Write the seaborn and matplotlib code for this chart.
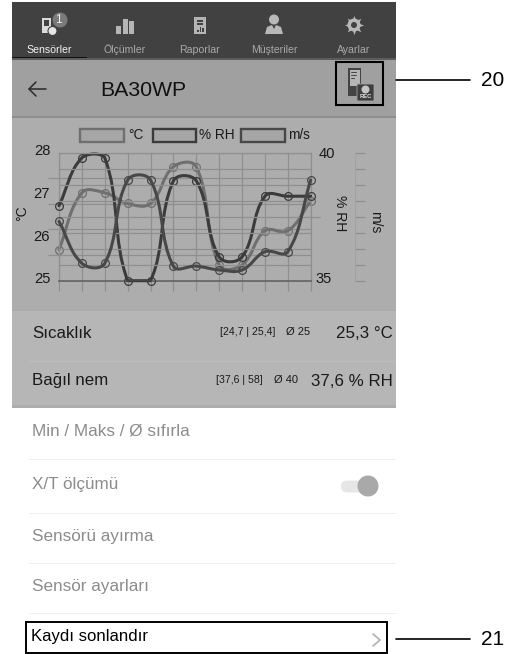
"""Sensor detail screen with the three-axis BA30WP trend chart."""

import matplotlib

matplotlib.use("Agg")
import matplotlib.pyplot as plt
import numpy as np
import seaborn as sns
from matplotlib.patches import Circle, FancyBboxPatch, PathPatch, Polygon, Rectangle
from matplotlib.path import Path
from matplotlib.transforms import ScaledTranslation

# chart values
SAMPLES = list(range(12))
TEMP_C = [25.73, 27.06, 27.06, 26.81, 26.81, 27.67, 27.67, 25.37, 25.37, 26.17, 26.17, 26.87]
HUMIDITY = [37.93, 39.80, 39.80, 35.00, 35.00, 38.90, 38.90, 35.93, 35.93, 38.30, 38.30, 38.30]
SPEED = [3.71, 1.09, 1.09, 6.29, 6.29, 0.91, 0.91, 0.67, 0.67, 1.81, 1.81, 6.29]

TEMP_TICKS = [25, 26, 27, 28]
TEMP_GRID = [25.6, 26.2, 26.8, 27.4]
RH_TICKS = [35, 40]
SPEED_TICKS = list(range(9))

# screen text
TABS = ["Sensörler", "Ölçümler", "Raporlar", "Müşteriler", "Ayarlar"]
TAB_X = [49, 125, 200, 274, 354]
MENU = ["Min / Maks / Ø sıfırla", "X/T ölçümü", "Sensörü ayırma", "Sensör ayarları"]
MENU_Y = [431, 484, 536, 586]
SEPARATORS = [459, 513, 563, 613]

W, H = 518, 654
PLOT = (59, 152.7, 310.7, 280.7)  # left, top, right, bottom in pixels
COL_TEMP, COL_RH, COL_SPEED = "#6f6f6f", "#3b3b3b", "#484848"
GRID = "#8f8f8f"

sns.set_theme(style="white")
plt.rcParams["font.family"] = ["Liberation Sans", "DejaVu Sans"]


def smooth_path(ax, xs, ys, tension=0.4):
    """Bezier path through the points, same control rule as a chart.js line."""
    x0, x1 = ax.get_xlim()
    y0, y1 = ax.get_ylim()
    sx = (PLOT[2] - PLOT[0]) / (x1 - x0)
    sy = (PLOT[3] - PLOT[1]) / (y1 - y0)
    xs, ys = np.asarray(xs, float), np.asarray(ys, float)
    after, before = [], []
    for i in range(len(xs)):
        a, c = max(i - 1, 0), min(i + 1, len(xs) - 1)
        d01 = np.hypot((xs[i] - xs[a]) * sx, (ys[i] - ys[a]) * sy)
        d12 = np.hypot((xs[c] - xs[i]) * sx, (ys[c] - ys[i]) * sy)
        total = max(d01 + d12, 1e-6)
        fa, fb = tension * d01 / total, tension * d12 / total
        dx, dy = xs[c] - xs[a], ys[c] - ys[a]
        # control points stay inside the plot area
        before.append((xs[i] - fa * dx, np.clip(ys[i] - fa * dy, y0, y1)))
        after.append((xs[i] + fb * dx, np.clip(ys[i] + fb * dy, y0, y1)))
    verts, codes = [(xs[0], ys[0])], [Path.MOVETO]
    for i in range(len(xs) - 1):
        verts += [after[i], before[i + 1], (xs[i + 1], ys[i + 1])]
        codes += [Path.CURVE4] * 3
    return Path(verts, codes)


def draw_series(ax, values, color):
    ax.add_patch(PathPatch(smooth_path(ax, SAMPLES, values), fill=False, ec=color, lw=2.2,
                           clip_on=False, capstyle="round"))
    sns.lineplot(x=SAMPLES, y=values, ax=ax, marker="o", linestyle="", markersize=5.6,
                 markerfacecolor="none", markeredgecolor=color, markeredgewidth=0.9,
                 legend=False, clip_on=False)


def nudge(tick, dx_px, dy_px):
    tick.set_transform(tick.get_transform() + ScaledTranslation(dx_px / 100, dy_px / 100, fig.dpi_scale_trans))


fig = plt.figure(figsize=(W / 100, H / 100), dpi=100, facecolor="white")

# ---- screen background, in pixel coordinates
ui = fig.add_axes([0, 0, 1, 1], zorder=0)
ui.set_xlim(0, W)
ui.set_ylim(H, 0)
ui.axis("off")


def rect(x0, y0, x1, y1, **kw):
    kw.setdefault("lw", 0)
    ui.add_patch(Rectangle((x0, y0), x1 - x0, y1 - y0, **kw))


def label(x, y, s, size=11, color="#1a1a1a", ha="left", **kw):
    ui.text(x, y, s, fontsize=size, color=color, ha=ha, va="center", **kw)


rect(12, 2, 396, 59, fc="#414141")
rect(12, 59, 396, 117, fc="#a0a0a0")
rect(12, 117, 396, 310, fc="#adadad")
rect(12, 310, 396, 408, fc="#b6b6b6")
rect(12, 58, 396, 60, fc="#5c5c5c")
rect(12, 116, 396, 118, fc="#8e8e8e")
rect(12, 310, 396, 311, fc="#a9a9a9")
rect(29, 361, 396, 362, fc="#bdbdbd")
rect(12, 405, 396, 408, fc="#adadad")

# tab bar
for i, (name, x) in enumerate(zip(TABS, TAB_X)):
    label(x, 50, name, size=7.6, color="#f2f2f2" if i == 0 else "#a9a9a9", ha="center")
rect(12, 56.5, 87, 58, fc="#111111")

rect(42, 18, 51, 33, fc="#d9d9d9")
rect(44, 20, 49, 26, fc="#414141")
ui.add_patch(Circle((60, 20), 7.5, fc="#7a7a7a", lw=0))
label(58, 20, "1", size=8.5, color="#eeeeee", ha="center")
ui.add_patch(Circle((52.5, 31), 4.5, fc="#e6e6e6", ec="#414141", lw=0.8))

for x0, top in zip((116, 122.5, 129), (26, 19, 21)):
    rect(x0, top, x0 + 5, 34, fc="#b5b5b5")

rect(194, 17, 206, 34, fc="#b5b5b5")
rect(197, 20, 203, 21.5, fc="#414141")
rect(197, 23, 203, 24.5, fc="#414141")
for x0, top in zip((197, 199.5, 202), (30, 27, 28)):
    rect(x0, top, x0 + 1.6, 32, fc="#414141")

ui.add_patch(Circle((274, 19.5), 5, fc="#b8b8b8", lw=0))
ui.add_patch(Polygon([(265, 34), (267, 27), (272, 25), (274, 29), (276, 25), (281, 27), (283, 34)],
                     fc="#b8b8b8", lw=0))

ui.scatter([354], [25], s=190, marker=(8, 1, 0), c="#b8b8b8", linewidths=0)
ui.add_patch(Circle((354, 25), 6.5, fc="#b8b8b8", lw=0))
ui.add_patch(Circle((354, 25), 3, fc="#414141", lw=0))

# header
ui.plot([29, 46], [89, 89], color="#2a2a2a", lw=1.1)
ui.plot([36, 29, 36], [82, 89, 96], color="#2a2a2a", lw=1.1)
label(100, 90, "BA30WP", size=15.3, color="#111111")

rect(335.5, 62, 383, 105, fc="none", ec="black", lw=1.5)
rect(348, 68, 361, 96, fc="#444444")
rect(349.5, 69.5, 359.5, 86, fc="#b5b5b5")
ui.plot([351, 356], [72, 72], color="#444444", lw=0.7)
ui.plot([351, 356], [75, 75], color="#444444", lw=0.7)
ui.plot([351, 354], [78, 78], color="#444444", lw=0.7)
ui.add_patch(FancyBboxPatch((358, 85), 15, 15, boxstyle="round,pad=1", fc="#3e3e3e", ec="#a0a0a0", lw=0.6))
ui.add_patch(Circle((365.5, 89.5), 4, fc="#c4c4c4", lw=0))
label(365.5, 97, "REC", size=4.2, color="#dddddd", ha="center", fontweight="bold")

# legend row
for x0, x1, col, name, tx in [(80, 124, COL_TEMP, "°C", 128), (153, 196, COL_RH, "% RH", 199),
                              (241, 285, COL_SPEED, "m/s", 288)]:
    rect(x0, 129, x1, 142, fc="#a6a6a6", ec=col, lw=1.7)
    label(tx, 135, name, size=9.8)

# reading rows
label(32, 334, "Sıcaklık", size=12.2)
label(220, 332, "[24,7 | 25,4]", size=7.6)
label(286, 332, "Ø 25", size=8)
label(393, 334, "25,3 °C", size=12.2, ha="right")
label(32, 381, "Bağıl nem", size=12.2)
label(216, 380, "[37,6 | 58]", size=7.6)
label(274, 380, "Ø 40", size=8)
label(393, 381, "37,6 % RH", size=12.2, ha="right")

# menu
for text, y in zip(MENU, MENU_Y):
    label(32, y, text, size=12.3, color="#8c8c8c")
for y in SEPARATORS:
    rect(29, y, 396, y + 1, fc="#efefef")
ui.add_patch(FancyBboxPatch((341, 480.5), 30, 12, boxstyle="round,pad=0,rounding_size=6", fc="#e6e6e6", lw=0))
ui.add_patch(Circle((368, 486), 10.5, fc="#a9a9a9", lw=0))

rect(25.5, 622, 387, 653, fc="white", ec="black", lw=1.4)
label(31, 636, "Kaydı sonlandır", size=12.1, color="black")
ui.plot([373, 380, 373], [634, 640, 646], color="#b0b0b0", lw=1.2)

# callouts
ui.plot([396, 470], [80, 80], color="black", lw=1.2)
ui.plot([396, 470], [639, 639], color="black", lw=1.2)
label(481, 81, "20", size=15, color="black")
label(481, 639.5, "21", size=15, color="black")

# ---- chart, one axis for each unit
left, top, right, bottom = PLOT
ax = fig.add_axes([left / W, 1 - bottom / H, (right - left) / W, (bottom - top) / H],
                  facecolor="none", zorder=1)
ax.set_xlim(SAMPLES[0], SAMPLES[-1])
ax.set_ylim(TEMP_TICKS[0], TEMP_TICKS[-1])
ax.set_xticks(SAMPLES)
ax.set_xticklabels([])
ax.set_yticks(TEMP_TICKS)
ax.set_yticks(TEMP_GRID, minor=True)
ax.tick_params(axis="x", length=7.5, width=0.9, color=GRID, bottom=True)
ax.tick_params(axis="y", which="major", length=0, pad=6.3, labelsize=10.6, labelcolor="#1a1a1a")
ax.tick_params(axis="y", which="minor", length=8, width=0.9, color=GRID, left=True)
ax.grid(True, axis="x", color=GRID, lw=0.9)
ax.grid(True, axis="y", which="minor", color=GRID, lw=0.9)
for tick in ax.get_yticklabels():
    nudge(tick, 0, 3)
for side in ("left", "top", "right"):
    ax.spines[side].set_color(GRID)
    ax.spines[side].set_linewidth(0.9)
ax.spines["bottom"].set_color("#5f5f5f")
ax.spines["bottom"].set_linewidth(1.2)

ax_rh = ax.twinx()
ax_rh.set_facecolor("none")
ax_rh.set_ylim(RH_TICKS[0], RH_TICKS[-1])
ax_rh.set_yticks(RH_TICKS)
ax_rh.tick_params(axis="y", length=0, pad=5.5, labelsize=10.6, labelcolor="#1a1a1a", right=True)
rh_labels = ax_rh.get_yticklabels()
nudge(rh_labels[0], -3, 3)
for spine in ax_rh.spines.values():
    spine.set_visible(False)

ax_speed = ax.twinx()
ax_speed.set_facecolor("none")
ax_speed.set_ylim(SPEED_TICKS[0], SPEED_TICKS[-1])
ax_speed.set_yticks(SPEED_TICKS)
ax_speed.set_yticklabels([])
ax_speed.grid(True, axis="y", color=GRID, lw=0.9)
ax_speed.tick_params(axis="y", length=7.5, width=0.9, color=GRID, right=True)
for side, spine in ax_speed.spines.items():
    spine.set_visible(side == "right")
ax_speed.spines["right"].set_position(("outward", (355 - right) * 0.72))
ax_speed.spines["right"].set_color("#a0a0a0")
ax_speed.spines["right"].set_linewidth(0.6)

draw_series(ax, TEMP_C, COL_TEMP)
draw_series(ax_rh, HUMIDITY, COL_RH)
draw_series(ax_speed, SPEED, COL_SPEED)
for a in (ax, ax_rh, ax_speed):
    a.set_xlabel("")
    a.set_ylabel("")

# axis titles and the mid line out to the third axis
overlay = dict(fontsize=10, color="#1a1a1a", ha="center", va="center")
ui.plot([right, 320], [216.7, 216.7], color=GRID, lw=0.9)
ui.text(22, 213, "°C", rotation=90, **overlay)
ui.text(340, 213, "% RH", rotation=-90, **overlay)
ui.text(375, 222, "m/s", rotation=-90, **overlay)

fig.savefig("out.png", dpi=100)
